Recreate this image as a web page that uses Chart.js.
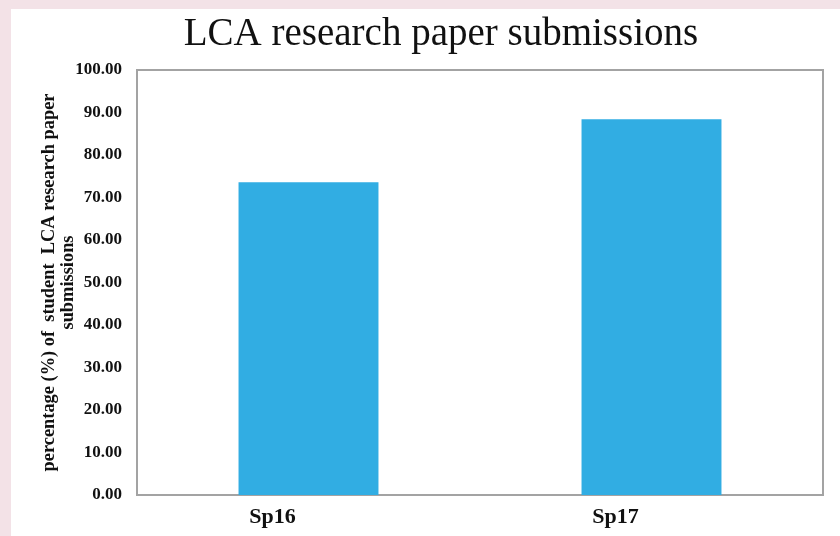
<!DOCTYPE html>
<html>
<head>
<meta charset="utf-8">
<script src="https://cdn.jsdelivr.net/npm/chart.js@4.4.0/dist/chart.umd.min.js"></script>
<style>
  html, body { margin: 0; padding: 0; width: 840px; height: 536px; overflow: hidden; background: #f3e2e7; }
  #frame { position: absolute; left: 11px; top: 9px; width: 829px; height: 527px; background: #ffffff; }
  canvas { display: block; }
</style>
</head>
<body>
<div id="frame"><canvas id="chart" width="829" height="527"></canvas></div>
<script>
// Semesters and the share of students who submitted an LCA research paper
const terms = ['Sp16', 'Sp17'];
const submissionPct = [73.6, 88.4];

// Value axis range and tick spacing
const yMin = 0;
const yMax = 100;
const yStep = 10;

const serif = '"Liberation Serif", "Times New Roman", Times, serif';

// Grey frame around the plotting area
const plotFrame = {
  id: 'plotFrame',
  beforeDatasetsDraw(chart) {
    const { ctx, chartArea: a } = chart;
    ctx.save();
    ctx.strokeStyle = '#a3a3a3';
    ctx.lineWidth = 2;
    ctx.strokeRect(a.left, a.top, a.right - a.left, a.bottom - a.top);
    ctx.restore();
  }
};

new Chart(document.getElementById('chart'), {
  type: 'bar',
  data: {
    labels: terms,
    datasets: [{
      data: submissionPct,
      backgroundColor: '#31ade3',
      borderWidth: 0,
      barPercentage: 0.408,
      categoryPercentage: 1.0
    }]
  },
  options: {
    responsive: false,
    animation: false,
    devicePixelRatio: 1,
    layout: { padding: { left: 48, right: 17, top: 0, bottom: 0 } },
    plugins: {
      legend: { display: false },
      tooltip: { enabled: false },
      title: {
        display: true,
        text: 'LCA research paper submissions',
        color: '#111111',
        font: { family: serif, size: 39, weight: 'normal', lineHeight: 1 },
        padding: { top: 6, bottom: 16 }
      }
    },
    scales: {
      x: {
        grid: { display: false, drawTicks: false },
        border: { display: false },
        ticks: {
          color: '#111111',
          font: { family: serif, size: 22, weight: 'bold', lineHeight: 1 },
          padding: 11,
          labelOffset: -36,
          maxRotation: 0
        },
        afterFit(scale) { scale.height = 41; }
      },
      y: {
        min: yMin,
        max: yMax,
        grid: { display: false, drawTicks: false },
        border: { display: false },
        ticks: {
          stepSize: yStep,
          color: '#111111',
          padding: 15,
          font: { family: serif, size: 17, weight: 'bold' },
          callback: v => Number(v).toFixed(2)
        },
        title: {
          display: true,
          text: ['percentage (%) of  student  LCA research paper', 'submissions'],
          color: '#111111',
          font: { family: serif, size: 18.4, weight: 'bold', lineHeight: 1.01 },
          padding: { top: -19, bottom: 0 }
        },
        afterFit(scale) { scale.width = 78; }
      }
    }
  },
  plugins: [plotFrame]
});
</script>
</body>
</html>
